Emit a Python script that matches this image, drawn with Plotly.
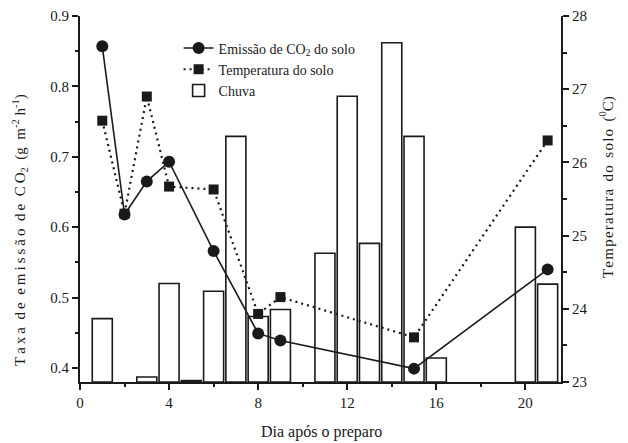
import plotly.graph_objects as go

# CO2 emission (left axis)
co2_days = [1, 2, 3, 4, 6, 8, 9, 15, 21]
co2_vals = [0.857, 0.618, 0.665, 0.693, 0.566, 0.449, 0.439, 0.399, 0.540]

# Soil temperature (right axis)
temp_days = [1, 2, 3, 4, 6, 8, 9, 15, 21]
temp_vals = [26.57, 25.30, 26.90, 25.67, 25.63, 23.93, 24.16, 23.61, 26.30]

# Rainfall (hidden axis, relative height)
rain_days = [1, 3, 4, 5, 6, 7, 8, 9, 11, 12, 13, 14, 15, 16, 20, 21]
rain_vals = [9.0, 0.7, 14.0, 0.2, 12.9, 34.9, 9.3, 10.3, 18.3, 40.6, 19.7, 48.2, 34.9, 3.4, 22.0, 13.9]

FONT = "Liberation Serif, Times New Roman, serif"
INK = "#1a1a1a"
TS = "\u2009"
HS = "\u200a"


def spaced(words, sep):
    return "  ".join(sep.join(list(w)) for w in words)


left_title = (spaced(["Taxa", "de", "emissão", "de"], TS) + "  C" + TS + "O<sub>2</sub>  (g  m<sup>-2</sup> h<sup>-1</sup>)")
right_title = spaced(["Temperatura", "do", "solo"], HS) + "  (<sup>0</sup>C)"

fig = go.Figure()

fig.add_trace(go.Bar(
    x=rain_days, y=rain_vals, name="Chuva", yaxis="y",
    width=0.9, marker=dict(color="white", line=dict(color=INK, width=1.6)),
    legendrank=3,
))

fig.add_trace(go.Scatter(
    x=co2_days, y=co2_vals, name="Emissão de CO<sub>2</sub> do solo", yaxis="y2",
    mode="lines+markers", line=dict(color=INK, width=1.6),
    marker=dict(symbol="circle", size=12, color=INK),
    legendrank=1,
))

fig.add_trace(go.Scatter(
    x=temp_days, y=temp_vals, name="Temperatura do solo", yaxis="y3",
    mode="lines+markers", line=dict(color=INK, width=2.2, dash="2px,4px"),
    marker=dict(symbol="square", size=10, color=INK),
    legendrank=2,
))

fig.update_layout(
    template="none",
    width=628, height=443,
    margin=dict(l=80, r=67, t=16, b=61, autoexpand=False),
    paper_bgcolor="white", plot_bgcolor="white",
    font=dict(family=FONT, size=15, color=INK),
    barmode="overlay",
    showlegend=True,
    legend=dict(
        x=0.205, y=0.955, xanchor="left", yanchor="top",
        bgcolor="rgba(0,0,0,0)", font=dict(size=14, family=FONT),
        tracegroupgap=0,
    ),
    xaxis=dict(
        range=[0, 21.6], dtick=4, tick0=0, automargin=False,
        ticks="outside", ticklen=6, tickwidth=1.5, tickcolor=INK,
        minor=dict(dtick=2, ticks="outside", ticklen=3, tickwidth=1.5, tickcolor=INK),
        showline=True, linewidth=1.8, linecolor=INK,
        showgrid=False, zeroline=False,
    ),
    xaxis2=dict(
        overlaying="x", side="top", range=[0, 21.6], dtick=2, tick0=0, automargin=False,
        ticks="inside", ticklen=5, tickwidth=1.5, tickcolor=INK,
        showticklabels=False, showline=True, linewidth=1.8, linecolor=INK,
        showgrid=False, zeroline=False,
    ),
    yaxis=dict(
        range=[0, 52], visible=False, showgrid=False, zeroline=False, automargin=False,
    ),
    yaxis2=dict(
        overlaying="y", side="left", range=[0.38, 0.9], dtick=0.1, tick0=0, automargin=False,
        ticks="outside", ticklen=6, tickwidth=1.5, tickcolor=INK,
        minor=dict(dtick=0.05, ticks="outside", ticklen=3, tickwidth=1.5, tickcolor=INK),
        tickformat=".1f",
        showline=True, linewidth=1.8, linecolor=INK,
        showgrid=False, zeroline=False,
    ),
    yaxis3=dict(
        overlaying="y", side="right", range=[23, 28], dtick=1, automargin=False,
        ticks="outside", ticklen=6, tickwidth=1.5, tickcolor=INK,
        minor=dict(dtick=0.5, ticks="outside", ticklen=4, tickwidth=1.5, tickcolor=INK),
        showline=True, linewidth=1.8, linecolor=INK,
        showgrid=False, zeroline=False,
    ),
    annotations=[
        dict(text="Dia após o preparo", xref="paper", yref="paper", x=0.502, y=-0.137,
             xanchor="center", yanchor="middle", showarrow=False, font=dict(size=16)),
        dict(text=left_title, xref="paper", yref="paper", x=-0.125, y=0.415,
             xanchor="center", yanchor="middle", textangle=-90, showarrow=False, font=dict(size=15)),
        dict(text=right_title, xref="paper", yref="paper", x=1.096, y=0.533,
             xanchor="center", yanchor="middle", textangle=-90, showarrow=False, font=dict(size=15)),
    ],
)

fig.write_html("out.html")
